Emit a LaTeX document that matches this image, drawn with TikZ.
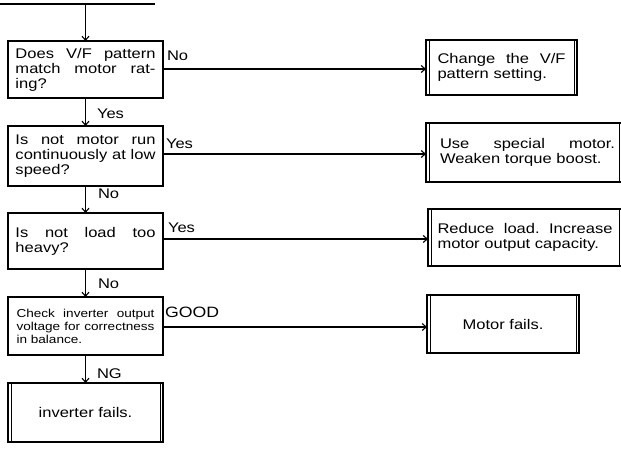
\documentclass[tikz,border=0pt]{standalone}
\usepackage{fontspec}
\setmainfont[FakeStretch=1.18]{Liberation Sans}
\usetikzlibrary{arrows.meta}
\newcommand{\jl}[2]{{\frenchspacing\spaceskip=.278em plus 1fil\relax\xspaceskip=.278em plus 1fil\relax\makebox[#1][s]{#2}}}
\begin{document}
\begin{tikzpicture}[x=1pt,y=-1pt,
  line width=1.1pt,
  every node/.style={inner sep=0pt, outer sep=0pt},
  txt/.style={font=\fontsize{14}{15}\selectfont},
  qbox/.style={draw, line width=1.1pt, minimum width=155pt, align=left, txt},
  dbox/.style={draw, line width=1.1pt, align=left, txt,
    path picture={
      \draw[line width=1pt] ([xshift=3pt]path picture bounding box.north west) -- ([xshift=3pt]path picture bounding box.south west);
      \draw[line width=1pt] ([xshift=-3pt]path picture bounding box.north east) -- ([xshift=-3pt]path picture bounding box.south east);}},
  lbl/.style={txt, anchor=base west},
  arr/.style={-{Straight Barb[length=4pt,width=7pt]}, line width=1.1pt}]
\useasboundingbox (0,0) rectangle (621,450);
\fill[white] (0,0) rectangle (621,450);

% left column
\node[qbox, minimum height=57pt, text width=140pt] (b1) at (85.5,69.5)
  {\jl{140pt}{Does V/F pattern}\\\jl{140pt}{match motor rat-}\\ing?};
\node[qbox, minimum height=60pt, text width=140pt] (b2) at (85.5,156)
  {\jl{140pt}{Is not motor run}\\\jl{140pt}{continuously at low}\\speed?};
\node[qbox, minimum height=56pt, text width=140pt] (b3) at (85.5,241)
  {\jl{140pt}{Is not load too}\\heavy?};
\node[qbox, minimum height=58pt, text width=138pt, font=\fontsize{11.5}{13}\selectfont] (b4) at (85.5,326)
  {\jl{138pt}{Check inverter output}\\\jl{138pt}{voltage for correctness}\\in balance.};
\node[dbox, minimum width=155pt, minimum height=59pt, align=center] (b5) at (85.5,412.5)
  {inverter fails.};

% right column
\node[dbox, minimum width=151pt, minimum height=55pt, text width=128pt] (r1) at (501.5,67.5)
  {\jl{128pt}{Change the V/F}\\pattern setting.};
\node[dbox, minimum width=196pt, minimum height=59pt, text width=182pt] (r2) at (524,152.5)
  {\hspace*{7pt}\jl{175pt}{Use special motor.}\\\hspace*{7pt}Weaken torque boost.};
\node[dbox, minimum width=194pt, minimum height=57pt, text width=175pt] (r3) at (525,237.5)
  {\jl{175pt}{Reduce load. Increase}\\motor output capacity.};
\node[dbox, minimum width=152pt, minimum height=58pt, align=center] (r4) at (503,324)
  {Motor fails.};

% entry line
\coordinate (tl) at (0,4);
\coordinate (tr) at (155,4);
\coordinate (tm) at (85.5,4);
\draw (tl) -- (tr);
\draw[arr] (tm) -- (b1.north);

% vertical flow
\draw[arr] (b1.south) -- (b2.north);
\draw[arr] (b2.south) -- (b3.north);
\draw[arr] (b3.south) -- (b4.north);
\draw[arr] (b4.south) -- (b5.north);

% horizontal branches
\coordinate (h1) at (163,69);
\coordinate (h2) at (163,154);
\coordinate (h3) at (163,239);
\coordinate (h4) at (163,327);
\draw[arr] (h1) -- (h1 -| r1.west);
\draw[arr] (h2) -- (h2 -| r2.west);
\draw[arr] (h3) -- (h3 -| r3.west);
\draw[arr] (h4) -- (h4 -| r4.west);

% labels
\node[lbl] (l1) at (167,60) {No};
\node[lbl] (l2) at (166,148) {Yes};
\node[lbl] (l3) at (168,232) {Yes};
\node[lbl, font=\fontsize{15}{16}\selectfont] (l4) at (165,317) {GOOD};
\node[lbl] (v1) at (97,118) {Yes};
\node[lbl] (v2) at (98,198) {No};
\node[lbl] (v3) at (98,288) {No};
\node[lbl] (v4) at (97,378) {NG};
\end{tikzpicture}
\end{document}
